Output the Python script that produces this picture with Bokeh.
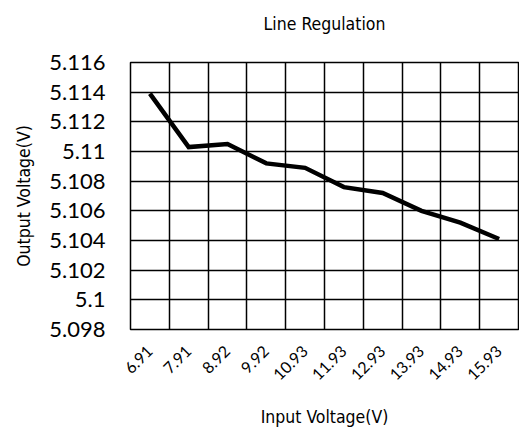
from bokeh.plotting import figure
from bokeh.models import FixedTicker
from bokeh.embed import file_html
from bokeh.resources import INLINE

categories = ["6.91", "7.91", "8.92", "9.92", "10.93", "11.93", "12.93", "13.93", "14.93", "15.93"]
output_v = [5.1139, 5.1103, 5.1105, 5.1092, 5.1089, 5.1076, 5.1072, 5.1060, 5.1052, 5.1041]
y_ticks = [5.098, 5.100, 5.102, 5.104, 5.106, 5.108, 5.110, 5.112, 5.114, 5.116]
y_tick_labels = ["5.098", "5.1", "5.102", "5.104", "5.106", "5.108", "5.11", "5.112", "5.114", "5.116"]
title_text = "Line Regulation"
x_title = "Input Voltage(V)"
y_title = "Output Voltage(V)"

NARROW = "'Liberation Sans Narrow', 'Arial Narrow', 'DejaVu Sans Condensed', sans-serif"
TICKFONT = "Lato"

n = len(categories)
xs = [i + 0.5 for i in range(n)]

p = figure(width=519, height=430, x_range=(0, n), y_range=(y_ticks[0], y_ticks[-1]),
           output_backend="svg", toolbar_location=None,
           min_border_left=130, min_border_right=1, min_border_top=62, min_border_bottom=100,
           title=title_text + "\n ")

p.title.align = "center"
p.title.text_font = NARROW
p.title.text_font_size = "17.5px"
p.title.text_font_style = "normal"
p.title.text_color = "black"
p.title.standoff = 18

p.line(xs, output_v, line_color="black", line_width=4.5, line_join="miter")

p.outline_line_color = "black"
p.outline_line_width = 1.5

p.xaxis.ticker = FixedTicker(ticks=xs)
p.xaxis.major_label_overrides = {x: c for x, c in zip(xs, categories)}
p.xaxis.major_label_orientation = 0.785398
p.xaxis.major_label_text_font = TICKFONT
p.xaxis.major_label_text_font_size = "16px"
p.xaxis.major_label_standoff = 19
p.xaxis.axis_label = x_title
p.xaxis.axis_label_text_font = NARROW
p.xaxis.axis_label_text_font_size = "17.5px"
p.xaxis.axis_label_text_font_style = "normal"
p.xaxis.axis_label_standoff = 19

p.yaxis.ticker = FixedTicker(ticks=y_ticks)
p.yaxis.major_label_overrides = {t: l for t, l in zip(y_ticks, y_tick_labels)}
p.yaxis.major_label_text_font = TICKFONT
p.yaxis.major_label_text_font_size = "22px"
p.yaxis.major_label_standoff = 25
p.yaxis.axis_label = y_title
p.yaxis.axis_label_text_font = NARROW
p.yaxis.axis_label_text_font_size = "17.5px"
p.yaxis.axis_label_text_font_style = "normal"
p.yaxis.axis_label_standoff = 12

for ax in (p.xaxis, p.yaxis):
    ax.axis_line_color = None
    ax.major_tick_line_color = None
    ax.minor_tick_line_color = None
    ax.major_tick_out = 0
    ax.major_tick_in = 0
    ax.minor_tick_out = 0
    ax.minor_tick_in = 0
    ax.major_label_text_color = "black"
    ax.axis_label_text_color = "black"

p.xgrid.ticker = FixedTicker(ticks=list(range(n + 1)))
p.ygrid.ticker = FixedTicker(ticks=y_ticks)
for g in (p.xgrid, p.ygrid):
    g.grid_line_color = "black"
    g.grid_line_width = 1.5
    g.grid_line_alpha = 1.0

open("out.html", "w").write(file_html(p, INLINE))
